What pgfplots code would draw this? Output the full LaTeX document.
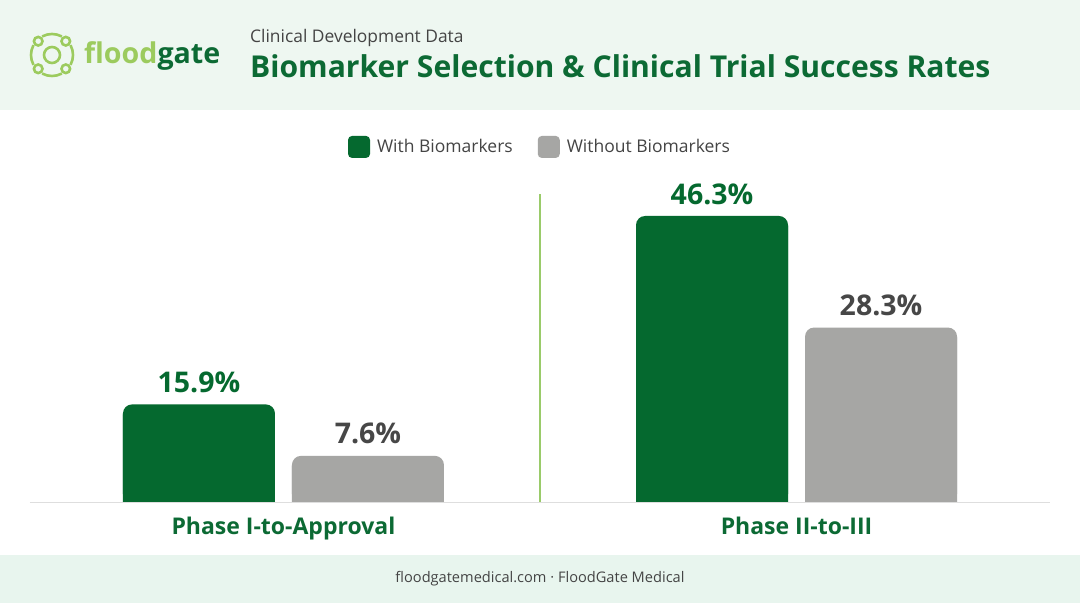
\documentclass[border=0pt]{standalone}
\usepackage{fontspec}
\setmainfont{Open Sans}
\usepackage{pgfplots}
\usepackage{pgfplotstable}
\pgfplotsset{compat=1.18}
\definecolor{hdrbg}{HTML}{EEF7F1}
\definecolor{ftbg}{HTML}{E8F5EE}
\definecolor{dkgreen}{HTML}{05692F}
\definecolor{titlegreen}{HTML}{0C6A34}
\definecolor{bargray}{HTML}{A6A6A4}
\definecolor{lgreen}{HTML}{9CCB5E}
\definecolor{divgreen}{HTML}{9ACB6A}
\definecolor{txtgray}{HTML}{444444}
\definecolor{lblgray}{HTML}{474747}
\pgfplotstableread{
x with without
0 15.9 7.6
1 46.3 28.3
}\data
\begin{document}
\begin{tikzpicture}[x=1pt,y=1pt]
\fill[hdrbg] (0,493) rectangle (1080,603);
\fill[white] (0,48) rectangle (1080,493);
\fill[ftbg] (0,0) rectangle (1080,48);
% logo
\begin{scope}[lgreen, line width=2.6pt]
\draw (52,548) circle (8);
\foreach \a in {45,135,225,315} {\draw (52,548) ++(\a:19.5) circle (4.3);}
\draw (52,548) ++(62:21) arc (62:118:21);
\draw (52,548) ++(152:21) arc (152:208:21);
\draw (52,548) ++(242:21) arc (242:298:21);
\draw (52,548) ++(332:21) arc (332:388:21);
\end{scope}
\node[anchor=base west, inner sep=0, font=\fontsize{28.6}{34}\bfseries\selectfont] at (84,539) {{\color{lgreen}flood}{\color{titlegreen}gate}};
\node[anchor=base west, inner sep=0, font=\fontsize{17.4}{20}\selectfont, text=txtgray] at (250,560) {Clinical Development Data};
\node[anchor=base west, inner sep=0, font=\fontsize{30.1}{35}\bfseries\selectfont, text=titlegreen] at (250,525) {Biomarker Selection \& Clinical Trial Success Rates};
\node[font=\fontsize{14.6}{18}\selectfont, text=txtgray] at (540,24) {floodgatemedical.com · FloodGate Medical};
\begin{axis}[
  at={(30pt,100pt)}, anchor=south west, scale only axis,
  width=1020pt, height=393pt,
  xmin=-0.494, xmax=1.494, ymin=0, ymax=63.4,
  ybar, bar width=152pt,
  axis line style={draw=none},
  ytick=\empty,
  xtick={0,1}, xticklabels={Phase I-to-Approval, Phase II-to-III},
  xtick style={draw=none},
  xticklabel style={font=\fontsize{23}{27}\bfseries\selectfont, text=titlegreen, yshift=-6pt},
  legend columns=2,
  legend style={at={(0.5,0.906)}, anchor=center, draw=none, fill=none,
    font=\fontsize{17.5}{21}\selectfont, text=txtgray,
    /tikz/every even column/.append style={column sep=23pt}},
  legend image code/.code={\fill[#1, draw=none, rounded corners=4pt] (0pt,-11pt) rectangle (22pt,11pt); \path (27pt,0pt);},
  nodes near coords={\pgfmathprintnumber[fixed,fixed zerofill,precision=1,assume math mode=true]{\pgfplotspointmeta}\%},
  every node near coord/.append style={font=\fontsize{28.5}{34}\bfseries\selectfont, yshift=8pt},
]
\addplot[fill=dkgreen, draw=none, bar shift=-84.5pt, rounded corners=9pt,
  every node near coord/.append style={text=dkgreen}] table[x=x, y=with] {\data};
\addlegendentry{With Biomarkers}
\addplot[fill=bargray, draw=none, bar shift=84.5pt, rounded corners=9pt,
  every node near coord/.append style={text=lblgray}] table[x=x, y=without] {\data};
\addlegendentry{Without Biomarkers}
\addplot[fill=dkgreen, draw=none, bar shift=-84.5pt, forget plot, nodes near coords={}] table[x=x, y expr=\thisrow{with}-1.6] {\data};
\addplot[fill=bargray, draw=none, bar shift=84.5pt, forget plot, nodes near coords={}] table[x=x, y expr=\thisrow{without}-1.6] {\data};
\draw[divgreen, line width=2.5pt] (axis cs:0.5,0) -- (axis cs:0.5,49.8);
\draw[black!13, line width=1.2pt] (rel axis cs:0,0) -- (rel axis cs:1,0);
\end{axis}
\pgfresetboundingbox
\useasboundingbox (0,0) rectangle (1080,603);
\end{tikzpicture}
\end{document}
